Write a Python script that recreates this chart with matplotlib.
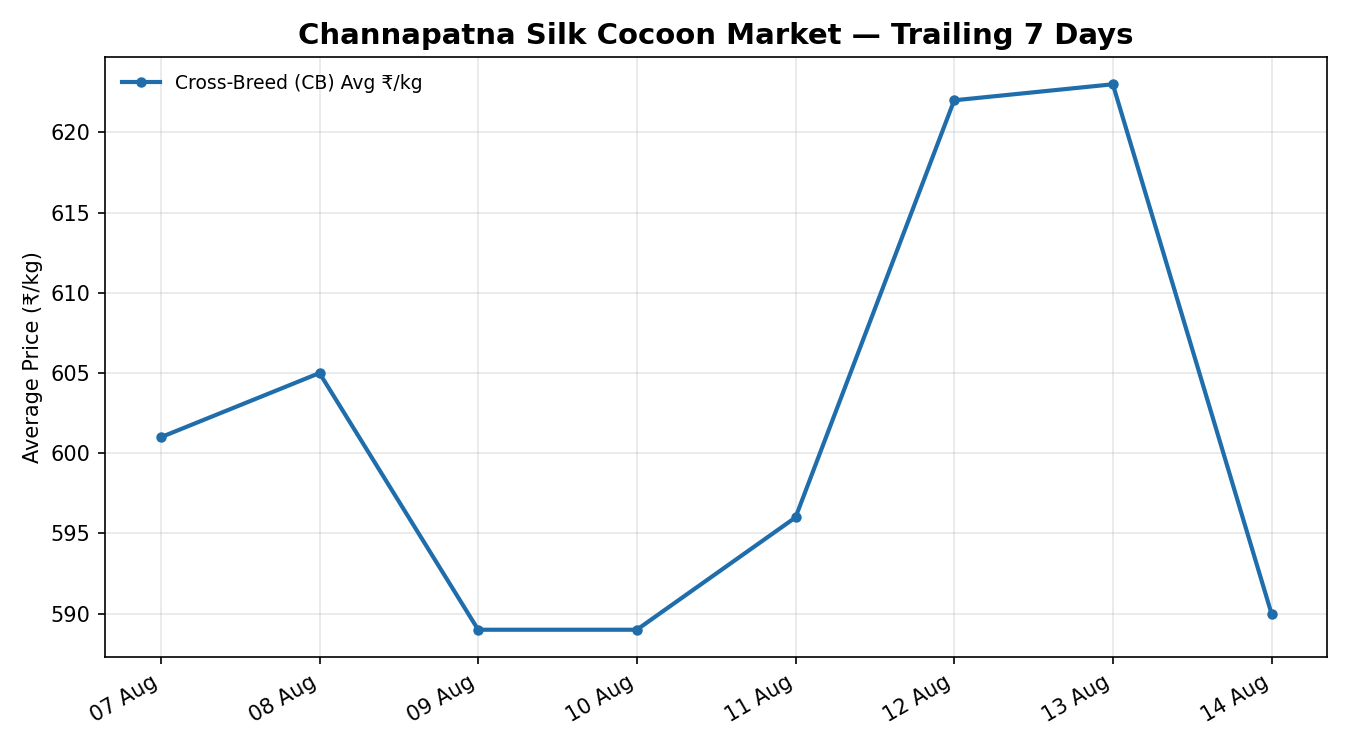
import matplotlib
matplotlib.use("Agg")
import matplotlib.pyplot as plt

dates = ["07 Aug", "08 Aug", "09 Aug", "10 Aug", "11 Aug", "12 Aug", "13 Aug", "14 Aug"]
prices = [601, 605, 589, 589, 596, 622, 623, 590]

fig = plt.figure(figsize=(9, 5), dpi=150)
ax = fig.add_axes([0.078, 0.124, 0.905, 0.8])
x = list(range(len(dates)))
ax.plot(x, prices, color="#1f6eab", linewidth=2, marker="o", markersize=4,
        label="Cross-Breed (CB) Avg ₹/kg")
ax.set_xticks(x)
ax.set_xticklabels(dates, rotation=30, ha="right")
ax.set_ylabel("Average Price (₹/kg)")
ax.set_title("Channapatna Silk Cocoon Market — Trailing 7 Days", fontsize=14, fontweight="bold")
ax.grid(True, alpha=0.3)
ax.legend(loc="upper left", frameon=False, fontsize=9)
fig.savefig("out.png", dpi=150)
